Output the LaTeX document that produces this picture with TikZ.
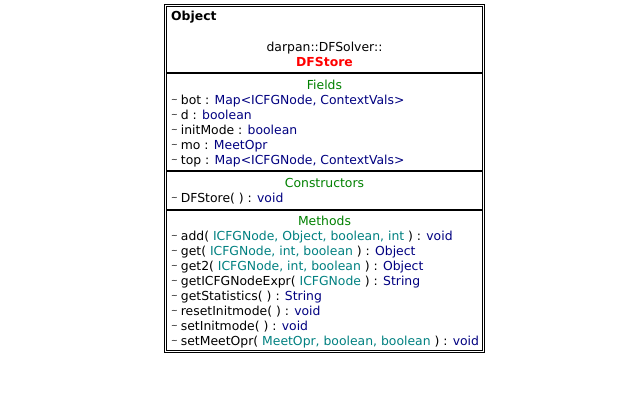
\documentclass[tikz,border=0pt]{standalone}
\usepackage{fontspec}
\setmainfont{DejaVu Sans}
\definecolor{hdgreen}{RGB}{0,128,0}
\definecolor{tynavy}{RGB}{0,0,128}
\definecolor{prteal}{RGB}{0,128,128}
\newcommand{\vis}{\makebox[9.7bp][l]{\raisebox{1.2bp}{\fontsize{8bp}{8bp}\selectfont\textasciitilde}}}
\newcommand{\tyname}[1]{\textcolor{tynavy}{#1}}
\newcommand{\prname}[1]{\textcolor{prteal}{#1}}
\begin{document}
\begin{tikzpicture}[x=1bp,y=-1bp,font=\fontsize{12.4bp}{15bp}\selectfont,
  member/.style={anchor=base west,inner sep=0pt},
  part/.style={anchor=base,inner sep=0pt,text=hdgreen}]
	\useasboundingbox (0,0) rectangle (640,400);
	% class box
	\draw[line width=1bp] (164.5,4.5) rectangle (484.5,352.5);
	\draw[line width=1bp] (166.5,6.5) rectangle (482.5,350.5);
	\draw[line width=2bp] (166.5,72.5)--(482.5,72.5) (166.5,171)--(482.5,171) (166.5,209.5)--(482.5,209.5);
	% header
	\node[member] (super) at (171,20) {\textbf{Object}};
	\node[anchor=base,inner sep=0pt] (pkg) at (324.5,51) {darpan::DFSolver::};
	\node[anchor=base,inner sep=0pt,text=red] (cls) at (324.5,66) {\textbf{DFStore}};
	% fields
	\node[part] (fields) at (324.5,89) {Fields};
	\node[member] (f1) at (171,104) {\vis bot : \tyname{Map<ICFGNode, ContextVals>}};
	\node[member] (f2) at (171,119) {\vis d : \tyname{boolean}};
	\node[member] (f3) at (171,134) {\vis initMode : \tyname{boolean}};
	\node[member] (f4) at (171,149) {\vis mo : \tyname{MeetOpr}};
	\node[member] (f5) at (171,164) {\vis top : \tyname{Map<ICFGNode, ContextVals>}};
	% constructors
	\node[part] (ctors) at (324.5,187) {Constructors};
	\node[member] (c1) at (171,202) {\vis DFStore( ) : \tyname{void}};
	% methods
	\node[part] (methods) at (324.5,225) {Methods};
	\node[member] (m1) at (171,240) {\vis add( \prname{ICFGNode, Object, boolean, int} ) : \tyname{void}};
	\node[member] (m2) at (171,255) {\vis get( \prname{ICFGNode, int, boolean} ) : \tyname{Object}};
	\node[member] (m3) at (171,270) {\vis get2( \prname{ICFGNode, int, boolean} ) : \tyname{Object}};
	\node[member] (m4) at (171,285) {\vis getICFGNodeExpr( \prname{ICFGNode} ) : \tyname{String}};
	\node[member] (m5) at (171,300) {\vis getStatistics( ) : \tyname{String}};
	\node[member] (m6) at (171,315) {\vis resetInitmode( ) : \tyname{void}};
	\node[member] (m7) at (171,330) {\vis setInitmode( ) : \tyname{void}};
	\node[member] (m8) at (171,345) {\vis setMeetOpr( \prname{MeetOpr, boolean, boolean} ) : \tyname{void}};
\end{tikzpicture}
\end{document}
